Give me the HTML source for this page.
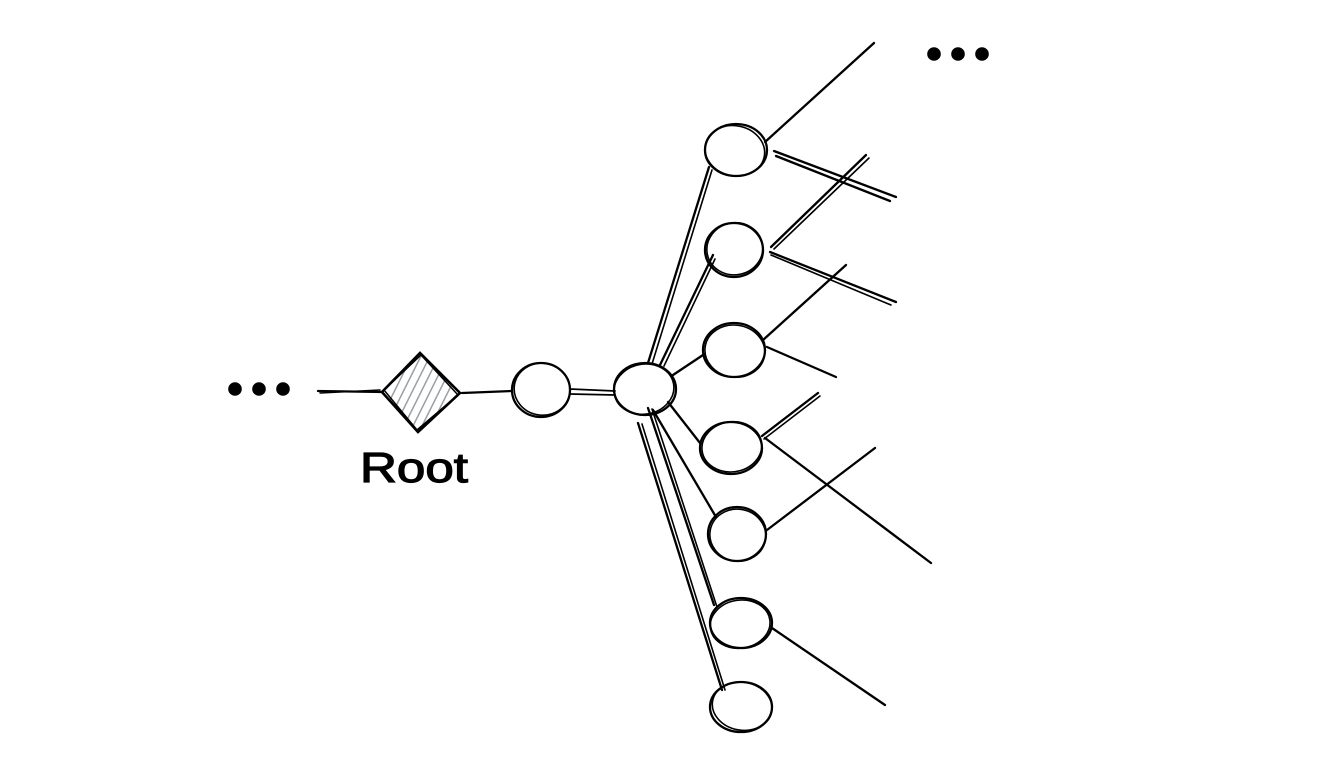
<!DOCTYPE html>
<html><head><meta charset="utf-8"><style>
html,body{margin:0;padding:0;background:#fff;}
svg{display:block;}
</style></head><body>
<svg width="1328" height="778" viewBox="0 0 1328 778" xmlns="http://www.w3.org/2000/svg">
<defs>
<clipPath id="dc"><polygon points="382,392 420,353 460,393 418,432"/></clipPath>
</defs>
<rect width="1328" height="778" fill="#fff"/>
<g fill="#000">
<circle cx="235" cy="389" r="6.8"/><circle cx="259" cy="389" r="6.8"/><circle cx="283" cy="389" r="6.8"/>
<circle cx="934" cy="54" r="6.8"/><circle cx="958" cy="54" r="6.8"/><circle cx="982" cy="54" r="6.8"/>
</g>
<!-- diamond hatch -->
<g clip-path="url(#dc)" stroke="#9aa0a5" stroke-width="1.5" fill="none">
<line x1="370" y1="440" x2="420" y2="340"/>
<line x1="379" y1="440" x2="429" y2="340"/>
<line x1="388" y1="440" x2="438" y2="340"/>
<line x1="397" y1="440" x2="447" y2="340"/>
<line x1="406" y1="440" x2="456" y2="340"/>
<line x1="415" y1="440" x2="465" y2="340"/>
<line x1="424" y1="440" x2="474" y2="340"/>
</g>
<g stroke="#000" stroke-width="2.3" fill="none" stroke-linecap="round">
<!-- diamond -->
<polygon points="382,392 420,353 460,393 418,432" stroke-width="2.6"/>
<polygon points="384,390 421,355 458,395 417,430" stroke-width="1.5"/>
<!-- left line -->
<line x1="318" y1="391" x2="382" y2="392"/>
<line x1="320" y1="393" x2="380" y2="390" stroke-width="1.5"/>
<line x1="462" y1="393" x2="512" y2="391"/>
<!-- circle1 -->
<ellipse cx="541" cy="390" rx="29" ry="27"/>
<ellipse cx="542" cy="389" rx="28" ry="26" stroke-width="1.6" transform="rotate(8 541 390)"/>
<line x1="570" y1="389" x2="615" y2="391" stroke-width="1.8"/>
<line x1="570" y1="394" x2="615" y2="395" stroke-width="1.8"/>
<!-- hub -->
<ellipse cx="645" cy="389" rx="31" ry="26"/>
<ellipse cx="644" cy="389" rx="30" ry="25" stroke-width="1.6" transform="rotate(-10 645 389)"/>
<!-- hub spokes -->
<line x1="648" y1="363" x2="709" y2="167"/>
<line x1="652" y1="364" x2="712" y2="170" stroke-width="1.6"/>
<line x1="660" y1="365" x2="713" y2="255"/>
<line x1="664" y1="366" x2="715" y2="259" stroke-width="1.6"/>
<line x1="673" y1="375" x2="703" y2="355"/>
<line x1="668" y1="402" x2="700" y2="443"/>
<line x1="653" y1="410" x2="716" y2="517"/>
<line x1="648" y1="408" x2="714" y2="605"/>
<line x1="652" y1="409" x2="717" y2="607" stroke-width="1.6"/>
<line x1="638" y1="423" x2="722" y2="690"/>
<line x1="642" y1="424" x2="725" y2="690" stroke-width="1.6"/>
<!-- node A -->
<ellipse cx="736" cy="150" rx="31" ry="26"/>
<ellipse cx="735" cy="151" rx="30" ry="25" stroke-width="1.6" transform="rotate(12 736 150)"/>
<line x1="765" y1="142" x2="874" y2="43"/>
<line x1="774" y1="151" x2="896" y2="197"/>
<line x1="776" y1="156" x2="890" y2="201"/>
<!-- node B -->
<ellipse cx="734" cy="250" rx="29" ry="27"/>
<ellipse cx="735" cy="249" rx="28" ry="26" stroke-width="1.6" transform="rotate(-10 734 250)"/>
<line x1="771" y1="247" x2="866" y2="155"/>
<line x1="774" y1="249" x2="869" y2="158" stroke-width="1.6"/>
<line x1="770" y1="252" x2="896" y2="302"/>
<line x1="771" y1="255" x2="891" y2="305" stroke-width="1.6"/>
<!-- node C -->
<ellipse cx="734" cy="350" rx="31" ry="27"/>
<ellipse cx="735" cy="351" rx="30" ry="26" stroke-width="1.6" transform="rotate(8 734 350)"/>
<line x1="763" y1="340" x2="846" y2="265"/>
<line x1="767" y1="347" x2="836" y2="377"/>
<!-- node D -->
<ellipse cx="731" cy="448" rx="31" ry="26"/>
<ellipse cx="732" cy="447" rx="30" ry="25" stroke-width="1.6" transform="rotate(-8 731 448)"/>
<line x1="762" y1="436" x2="818" y2="393"/>
<line x1="764" y1="439" x2="820" y2="396" stroke-width="1.6"/>
<line x1="765" y1="438" x2="931" y2="563"/>
<!-- node E -->
<ellipse cx="737" cy="534" rx="29" ry="27"/>
<ellipse cx="738" cy="535" rx="28" ry="26" stroke-width="1.6" transform="rotate(10 737 534)"/>
<line x1="767" y1="530" x2="875" y2="448"/>
<!-- node F -->
<ellipse cx="741" cy="623" rx="31" ry="25"/>
<ellipse cx="740" cy="624" rx="30" ry="24" stroke-width="1.6" transform="rotate(-8 741 623)"/>
<line x1="772" y1="628" x2="885" y2="705"/>
<!-- node G -->
<ellipse cx="741" cy="707" rx="31" ry="25"/>
<ellipse cx="742" cy="706" rx="30" ry="24" stroke-width="1.6" transform="rotate(10 741 707)"/>
</g>
<text x="360" y="482" font-family="Liberation Sans, sans-serif" font-size="42" textLength="108" lengthAdjust="spacingAndGlyphs" fill="#000" stroke="#000" stroke-width="1.2">Root</text>
</svg>
</body></html>
